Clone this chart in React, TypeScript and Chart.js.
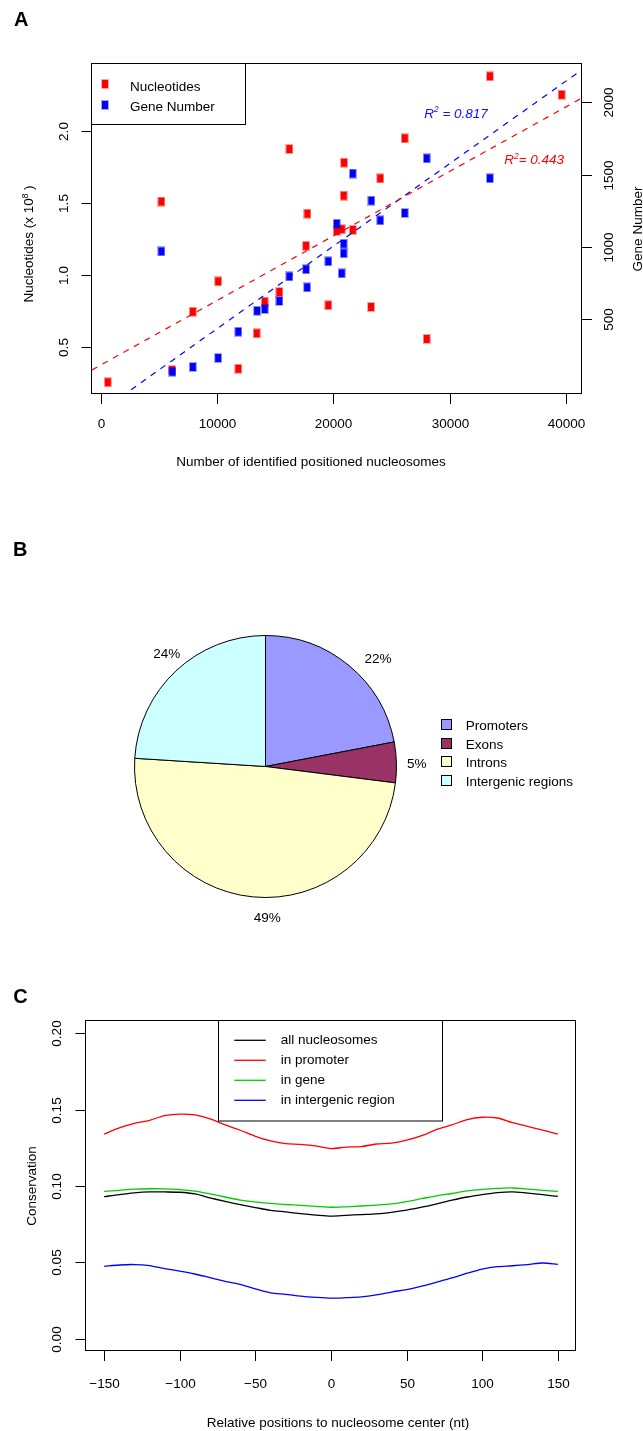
import React, { useEffect, useRef } from 'react';
import { Chart, registerables } from 'chart.js';
Chart.register(...registerables);

const FONT = '"Liberation Sans", Arial, Helvetica, sans-serif';
const FS = 13.5;
Chart.defaults.font.family = FONT;

// ================= Panel A data =================
const nucleosomeCountsNuc = [600, 5210, 6130, 7910, 10090, 11830, 13410, 14100, 15360, 16220, 17770, 17650, 19570, 20290, 20720, 21670, 20920, 20890, 24040, 23240, 26140, 28030, 33470, 39640];
const nucleotides = [0.255, 1.51, 0.34, 0.745, 0.956, 0.349, 0.595, 0.815, 0.882, 1.875, 1.426, 1.203, 0.79, 1.306, 1.318, 1.313, 1.78, 1.551, 1.671, 0.778, 1.949, 0.556, 2.38, 2.252];
const nucleosomeCountsGene = [5210, 6160, 7910, 10090, 11830, 13440, 14100, 15360, 16220, 17650, 17740, 19570, 20290, 20890, 20890, 20720, 21670, 23270, 24040, 26140, 28030, 33470];
const geneNumbers = [968, 135, 168, 230, 412, 557, 569, 625, 795, 844, 719, 899, 1160, 1021, 955, 816, 1507, 1319, 1183, 1234, 1612, 1474];
const xTicksA = [0, 10000, 20000, 30000, 40000];
const yTicksNuc = [0.5, 1.0, 1.5, 2.0];
const yTickLabelsNuc = ['0.5', '1.0', '1.5', '2.0'];
const yTicksGene = [500, 1000, 1500, 2000];
const fitNuc = { intercept: 0.375, slope: 4.48e-5, r2: '0.443' };
const fitGene = { intercept: -138, slope: 0.0571, r2: '0.817' };
const X_RANGE_A = [-760, 41390];
const Y_RANGE_NUC = [0.1736, 2.4653];
const Y_RANGE_GENE = [-19, 2265];
const seriesNamesA = ['Nucleotides', 'Gene Number'];

// ================= Panel B data =================
const regionLabels = ['Promoters', 'Exons', 'Introns', 'Intergenic regions'];
const regionPercents = [22, 5, 49, 24];
const regionColors = ['#9999FF', '#993366', '#FFFFCC', '#CCFFFF'];

// ================= Panel C data =================
const positions = [-150, -140, -130, -120, -110, -100, -90, -80, -70, -60, -50, -40, -30, -20, -10, 0, 10, 20, 30, 40, 50, 60, 70, 80, 90, 100, 110, 120, 130, 140, 150];
const consAll = [0.0930, 0.0944, 0.0955, 0.0961, 0.0961, 0.0959, 0.0948, 0.0922, 0.0899, 0.0878, 0.0859, 0.0841, 0.0830, 0.0819, 0.0810, 0.0803, 0.0808, 0.0813, 0.0818, 0.0828, 0.0842, 0.0861, 0.0883, 0.0907, 0.0928, 0.0944, 0.0957, 0.0962, 0.0953, 0.0943, 0.0932];
const consPromoter = [0.134, 0.138, 0.141, 0.143, 0.146, 0.147, 0.1465, 0.144, 0.140, 0.1365, 0.1325, 0.1295, 0.1278, 0.1272, 0.1262, 0.1245, 0.1255, 0.1258, 0.1275, 0.128, 0.130, 0.133, 0.137, 0.140, 0.1435, 0.145, 0.1445, 0.1415, 0.139, 0.1365, 0.134];
const consGene = [0.0965, 0.0972, 0.0979, 0.0982, 0.0981, 0.0976, 0.0966, 0.0948, 0.0928, 0.0908, 0.0896, 0.0886, 0.0879, 0.0873, 0.0867, 0.0861, 0.0864, 0.0869, 0.0875, 0.0883, 0.0898, 0.0917, 0.0936, 0.0951, 0.0968, 0.0978, 0.0984, 0.0987, 0.0980, 0.0972, 0.0965];
const consIntergenic = [0.0474, 0.0483, 0.0486, 0.0479, 0.0459, 0.0443, 0.0424, 0.0400, 0.0376, 0.0356, 0.0326, 0.0301, 0.0291, 0.0279, 0.0271, 0.0266, 0.0269, 0.0274, 0.0287, 0.0306, 0.0322, 0.0345, 0.0371, 0.0398, 0.0429, 0.0456, 0.0472, 0.0478, 0.0486, 0.0496, 0.0487];
const seriesNamesC = ['all nucleosomes', 'in promoter', 'in gene', 'in intergenic region'];
const seriesColorsC = ['#000000', '#FF0000', '#00CD00', '#0000FF'];
const xTicksC = [-150, -100, -50, 0, 50, 100, 150];
const yTicksC = [0, 0.05, 0.1, 0.15, 0.2];
const yTickLabelsC = ['0.00', '0.05', '0.10', '0.15', '0.20'];
const X_RANGE_C = [-162, 162];
const Y_RANGE_C = [-0.008, 0.208];

// pie label placement (clockwise angle from top in degrees, distance in radii)
const PIE_LABEL_POLAR = [[46, 1.195], [88.8, 1.154], [179.3, 1.154], [319, 1.15]];

// ================= helpers =================
type Run = { t: string; sup?: boolean };
function drawRich(ctx: CanvasRenderingContext2D, runs: Run[], x: number, y: number, o: any = {}) {
  const size = o.size ?? FS;
  const align = o.align ?? 'left';
  ctx.save();
  ctx.translate(x, y);
  if (o.rot) ctx.rotate(o.rot);
  ctx.fillStyle = o.color ?? '#000';
  ctx.textBaseline = 'alphabetic';
  ctx.textAlign = 'left';
  const fontFor = (r: Run) => `${o.italic ? 'italic ' : ''}${o.bold ? 'bold ' : ''}${r.sup ? size * 0.62 : size}px ${FONT}`;
  let total = 0;
  const widths = runs.map((r) => { ctx.font = fontFor(r); const w = ctx.measureText(r.t).width; total += w; return w; });
  let cx = align === 'center' ? -total / 2 : align === 'right' ? -total : 0;
  runs.forEach((r, i) => {
    ctx.font = fontFor(r);
    ctx.fillText(r.t, cx, r.sup ? -size * 0.42 : 0);
    cx += widths[i];
  });
  ctx.restore();
}
function txt(ctx: CanvasRenderingContext2D, s: string, x: number, y: number, o: any = {}) {
  drawRich(ctx, [{ t: s }], x, y, o);
}
function seg(ctx: CanvasRenderingContext2D, x1: number, y1: number, x2: number, y2: number) {
  ctx.beginPath(); ctx.moveTo(x1, y1); ctx.lineTo(x2, y2); ctx.stroke();
}
function makeMarker(color: string) {
  const c = document.createElement('canvas');
  c.width = 8; c.height = 10;
  const g = c.getContext('2d')!;
  g.globalAlpha = 0.35; g.fillStyle = color; g.fillRect(0, 0, 8, 10);
  g.globalAlpha = 1; g.fillRect(1, 1, 6, 8);
  return c;
}
const UP = -Math.PI / 2;

// ================= Panel A =================
function configA(): any {
  const redM = makeMarker('#FF0000');
  const blueM = makeMarker('#0000FF');
  const fitLine = (f: any) => X_RANGE_A.map((x) => ({ x, y: f.intercept + f.slope * x }));
  const plugin = {
    id: 'axesA',
    afterDraw(chart: any) {
      const ctx: CanvasRenderingContext2D = chart.ctx;
      const { left, right, top, bottom } = chart.chartArea;
      const xs = chart.scales.x, yl = chart.scales.y, yr = chart.scales.y1;
      ctx.save();
      ctx.strokeStyle = '#000'; ctx.lineWidth = 1;
      ctx.strokeRect(left - 0.5, top - 0.5, right - left, bottom - top);
      xTicksA.forEach((t) => {
        const px = Math.round(xs.getPixelForValue(t)) + 0.5;
        seg(ctx, px, bottom, px, bottom + 10);
        txt(ctx, String(t), px, bottom + 34.3, { align: 'center' });
      });
      yTicksNuc.forEach((t, i) => {
        const py = Math.round(yl.getPixelForValue(t)) + 0.5;
        seg(ctx, left - 10.5, py, left, py);
        txt(ctx, yTickLabelsNuc[i], left - 23.7, py, { align: 'center', rot: UP });
      });
      yTicksGene.forEach((t) => {
        const py = Math.round(yr.getPixelForValue(t)) + 0.5;
        seg(ctx, right - 0.5, py, right + 10, py);
        txt(ctx, String(t), right + 31.3, py, { align: 'center', rot: UP });
      });
      txt(ctx, 'Number of identified positioned nucleosomes', 311, 466, { align: 'center' });
      drawRich(ctx, [{ t: 'Nucleotides (x 10' }, { t: '8', sup: true }, { t: ' )' }], 33.3, 244, { align: 'center', rot: UP });
      txt(ctx, 'Gene Number', 641.5, 229, { align: 'center', rot: UP });
      // legend
      ctx.strokeRect(91.5, 63.5, 154, 61);
      ctx.drawImage(redM, 101, 79);
      ctx.drawImage(blueM, 101, 100);
      txt(ctx, seriesNamesA[0], 130, 90.5);
      txt(ctx, seriesNamesA[1], 130, 110.5);
      // R^2 labels
      drawRich(ctx, [{ t: 'R' }, { t: '2', sup: true }, { t: ' = ' + fitGene.r2 }], 424.3, 118, { italic: true, color: '#1010FF' });
      drawRich(ctx, [{ t: 'R' }, { t: '2', sup: true }, { t: '= ' + fitNuc.r2 }], 504.3, 164.3, { italic: true, color: '#FF0000' });
      txt(ctx, 'A', 14, 26, { bold: true, size: 20 });
      ctx.restore();
    },
  };
  return {
    type: 'scatter',
    data: {
      datasets: [
        { label: seriesNamesA[0], data: nucleosomeCountsNuc.map((x, i) => ({ x, y: nucleotides[i] })), yAxisID: 'y', pointStyle: redM, pointRadius: 4, showLine: false, order: 2 },
        { label: seriesNamesA[1], data: nucleosomeCountsGene.map((x, i) => ({ x, y: geneNumbers[i] })), yAxisID: 'y1', pointStyle: blueM, pointRadius: 4, showLine: false, order: 1 },
        { label: 'fitNuc', data: fitLine(fitNuc), yAxisID: 'y', showLine: true, borderColor: '#FF0000', borderDash: [6, 6], borderWidth: 1.2, pointRadius: 0, order: 0, clip: 0 },
        { label: 'fitGene', data: fitLine(fitGene), yAxisID: 'y1', showLine: true, borderColor: '#0000FF', borderDash: [6, 6], borderWidth: 1.2, pointRadius: 0, order: 0, clip: 0 },
      ],
    },
    options: {
      animation: false, responsive: false, maintainAspectRatio: false, events: [],
      layout: { padding: { left: 92, right: 61, top: 64, bottom: 86 } },
      plugins: { legend: { display: false }, tooltip: { enabled: false } },
      scales: {
        x: { type: 'linear', min: X_RANGE_A[0], max: X_RANGE_A[1], display: false },
        y: { type: 'linear', min: Y_RANGE_NUC[0], max: Y_RANGE_NUC[1], display: false },
        y1: { type: 'linear', position: 'right', min: Y_RANGE_GENE[0], max: Y_RANGE_GENE[1], display: false },
      },
    },
    plugins: [plugin],
  };
}

// ================= Panel B =================
function configB(): any {
  const plugin = {
    id: 'pieDeco',
    afterDraw(chart: any) {
      const ctx: CanvasRenderingContext2D = chart.ctx;
      const ca = chart.chartArea;
      const cx = (ca.left + ca.right) / 2, cy = (ca.top + ca.bottom) / 2;
      const arc = chart.getDatasetMeta(0).data[0];
      const r = arc.outerRadius;
      ctx.save();
      regionPercents.forEach((p, i) => {
        const [deg, d] = PIE_LABEL_POLAR[i];
        const th = (deg * Math.PI) / 180;
        const x = cx + d * r * Math.sin(th);
        const y = cy - d * r * Math.cos(th);
        txt(ctx, p + '%', x, y + 0.358 * FS, { align: 'center' });
      });
      ctx.strokeStyle = '#000'; ctx.lineWidth = 1;
      regionLabels.forEach((lab, i) => {
        const yTop = Math.round(240 + i * 18.67);
        ctx.fillStyle = regionColors[i];
        ctx.fillRect(442, yTop, 10, 10);
        ctx.strokeRect(441.5, yTop - 0.5, 10, 10);
        txt(ctx, lab, 465.7, 250 + i * 18.67);
      });
      txt(ctx, 'B', 13, 76, { bold: true, size: 20 });
      ctx.restore();
    },
  };
  return {
    type: 'pie',
    data: {
      labels: regionLabels,
      datasets: [{ data: regionPercents, backgroundColor: regionColors, borderColor: '#000', borderWidth: 1, radius: 131, hoverOffset: 0 }],
    },
    options: {
      animation: false, responsive: false, maintainAspectRatio: false, events: [],
      layout: { padding: { left: 115.5, right: 227.5, top: 136.5, bottom: 43.5 } },
      plugins: { legend: { display: false }, tooltip: { enabled: false } },
    },
    plugins: [plugin],
  };
}

// ================= Panel C =================
function configC(): any {
  const series = [consAll, consPromoter, consGene, consIntergenic];
  const plugin = {
    id: 'axesC',
    afterDraw(chart: any) {
      const ctx: CanvasRenderingContext2D = chart.ctx;
      const { left, right, top, bottom } = chart.chartArea;
      const xs = chart.scales.x, ys = chart.scales.y;
      ctx.save();
      ctx.strokeStyle = '#000'; ctx.lineWidth = 1;
      ctx.strokeRect(left - 0.5, top - 0.5, right - left, bottom - top);
      xTicksC.forEach((t) => {
        const px = Math.round(xs.getPixelForValue(t)) + 0.5;
        seg(ctx, px, bottom, px, bottom + 10);
        const lab = t < 0 ? '\u2212' + Math.abs(t) : String(t);
        txt(ctx, lab, px, bottom + 36.6, { align: 'center' });
      });
      yTicksC.forEach((t, i) => {
        const py = Math.round(ys.getPixelForValue(t)) + 0.5;
        seg(ctx, left - 10.5, py, left, py);
        txt(ctx, yTickLabelsC[i], left - 25, py, { align: 'center', rot: UP });
      });
      txt(ctx, 'Relative positions to nucleosome center (nt)', 338, 467, { align: 'center' });
      txt(ctx, 'Conservation', 35.5, (top + bottom) / 2, { align: 'center', rot: UP });
      // legend
      ctx.fillStyle = '#fff';
      ctx.fillRect(219, 61, 223, 100);
      ctx.strokeStyle = '#000';
      ctx.strokeRect(218.5, 60.5, 224, 100.5);
      seriesNamesC.forEach((name, i) => {
        const ly = 80.3 + i * 20;
        ctx.strokeStyle = seriesColorsC[i];
        ctx.lineWidth = 1.3;
        seg(ctx, 234.3, ly, 265.7, ly);
        txt(ctx, name, 280.7, 84.3 + i * 20);
      });
      txt(ctx, 'C', 13.3, 43.3, { bold: true, size: 20 });
      ctx.restore();
    },
  };
  return {
    type: 'scatter',
    data: {
      datasets: series.map((arr, k) => ({
        label: seriesNamesC[k],
        data: positions.map((p, i) => ({ x: p, y: arr[i] })),
        showLine: true, borderColor: seriesColorsC[k], borderWidth: 1.3, pointRadius: 0, tension: 0.3, clip: 0,
      })),
    },
    options: {
      animation: false, responsive: false, maintainAspectRatio: false, events: [],
      layout: { padding: { left: 86, right: 67, top: 61, bottom: 80 } },
      plugins: { legend: { display: false }, tooltip: { enabled: false } },
      scales: {
        x: { type: 'linear', min: X_RANGE_C[0], max: X_RANGE_C[1], display: false },
        y: { type: 'linear', min: Y_RANGE_C[0], max: Y_RANGE_C[1], display: false },
      },
    },
    plugins: [plugin],
  };
}

export default function App() {
  const refA = useRef<HTMLCanvasElement>(null);
  const refB = useRef<HTMLCanvasElement>(null);
  const refC = useRef<HTMLCanvasElement>(null);
  useEffect(() => {
    const charts = [
      new Chart(refA.current as HTMLCanvasElement, configA()),
      new Chart(refB.current as HTMLCanvasElement, configB()),
      new Chart(refC.current as HTMLCanvasElement, configC()),
    ];
    return () => charts.forEach((c) => c.destroy());
  }, []);
  const cs = (top: number, h: number): React.CSSProperties => ({ position: 'absolute', left: 0, top, width: 643, height: h, display: 'block' });
  return (
    <div style={{ position: 'absolute', left: 0, top: 0, width: 643, height: 1431, background: '#fff', overflow: 'hidden' }}>
      <canvas ref={refA} width={643} height={480} style={cs(0, 480)} />
      <canvas ref={refB} width={643} height={480} style={cs(480, 480)} />
      <canvas ref={refC} width={643} height={471} style={cs(960, 471)} />
    </div>
  );
}
